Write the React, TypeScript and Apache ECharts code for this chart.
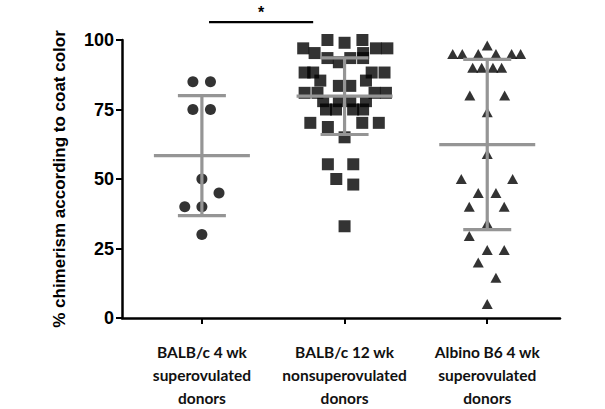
import React, { useEffect, useRef } from "react";
import * as echarts from "echarts";

const categories = [
  "BALB/c 4 wk\nsuperovulated\ndonors",
  "BALB/c 12 wk\nnonsuperovulated\ndonors",
  "Albino B6 4 wk\nsuperovulated\ndonors",
];
const categoryPositions = [1, 2, 3];
const yTicks = [0, 25, 50, 75, 100];

const group1Values = [85, 85, 75, 75, 50, 45, 40, 40, 30];
const group1Jitter = [-0.063, 0.06, -0.063, 0.06, 0, 0.12, -0.12, 0, 0];

const group2Values = [
  100, 100, 99, 97, 97, 97, 95.3, 95.3, 93.5, 93.5, 93.5, 92, 88.3, 88.3, 88.3, 88.3,
  85.4, 85.4, 83.5, 83.5, 81, 81, 81, 81, 78, 78, 78, 78, 75, 75, 75, 75, 70.2, 70.2,
  70.2, 68.7, 65, 55.3, 55.3, 50, 48, 33,
];
const group2Jitter = [
  -0.12, 0.125, 0, -0.29, 0.22, 0.3, -0.21, 0.13, -0.12, 0.04, 0.13, -0.04, -0.28, -0.22,
  0.19, 0.28, -0.17, 0.15, -0.04, 0.04, -0.28, -0.19, 0.21, 0.29, -0.15, -0.04, 0.04, 0.15,
  -0.13, -0.06, 0.06, 0.13, -0.24, 0.124, 0.24, -0.117, 0, -0.117, 0.061, -0.058, 0.061, 0,
];

const group3Values = [
  98, 95, 95, 95, 95, 95, 95, 90, 90, 90, 90, 80, 80, 74, 59, 50, 50, 45, 45, 40, 40, 34,
  29.5, 24.5, 24.5, 20, 14.5, 5,
];
const group3Jitter = [
  0, -0.242, -0.175, -0.063, 0.061, 0.171, 0.234, -0.102, -0.039, 0.04, 0.101, -0.122,
  0.122, 0, 0, -0.182, 0.178, -0.063, 0.061, -0.126, 0.119, 0, -0.126, 0, 0.119, -0.063,
  0.061, 0,
];

const groupMeans = [58.4, 79.8, 62.4];
const groupSDs = [21.6, 13.8, 30.6];

const sigFrom = 1.05;
const sigTo = 1.78;
const sigLevel = 106.4;
const sigLabel = "*";

const App: React.FC = () => {
  const ref = useRef<HTMLDivElement>(null);

  useEffect(() => {
    if (!ref.current) return;
    const chart = echarts.init(ref.current, null, { renderer: "svg" });

    const mk = (vals: number[], jit: number[], pos: number) =>
      vals.map((v, i) => [pos + jit[i], v]);

    const option: any = {
      animation: false,
      backgroundColor: "#ffffff",
      grid: { left: 122, right: 45, top: 40, bottom: 83, containLabel: false },
      xAxis: {
        type: "value",
        min: 0.44,
        max: 3.51,
        splitLine: { show: false },
        axisLine: { show: true, onZero: false, lineStyle: { color: "#000", width: 2.5 } },
        axisTick: {
          show: true,
          customValues: categoryPositions,
          length: 6,
          lineStyle: { color: "#000", width: 2 },
        },
        axisLabel: {
          show: true,
          customValues: categoryPositions,
          formatter: (v: number) => categories[Math.round(v) - 1] ?? "",
          margin: 22,
          color: "#111",
          fontFamily: "Lato",
          fontWeight: "bold",
          fontSize: 15.5,
          lineHeight: 23,
          align: "center",
        },
      },
      yAxis: {
        type: "value",
        min: 0,
        max: 100,
        interval: 25,
        splitLine: { show: false },
        axisLine: { show: true, lineStyle: { color: "#000", width: 2.5 } },
        axisTick: { show: true, length: 6, lineStyle: { color: "#000", width: 2 } },
        axisLabel: {
          margin: 8,
          color: "#000",
          fontFamily: "Liberation Sans",
          fontWeight: "bold",
          fontSize: 18,
          formatter: (v: number) => (yTicks.includes(v) ? String(v) : ""),
        },
        name: "% chimerism according to coat color",
        nameLocation: "middle",
        nameRotate: 90,
        nameGap: 54,
        nameTextStyle: {
          color: "#000",
          fontFamily: "Liberation Sans",
          fontWeight: "bold",
          fontSize: 17,
        },
      },
      series: [
        {
          type: "scatter",
          symbol: "circle",
          symbolSize: 11,
          itemStyle: { color: "#000" },
          data: mk(group1Values, group1Jitter, categoryPositions[0]),
          z: 2,
        },
        {
          type: "scatter",
          symbol: "rect",
          symbolSize: 12,
          itemStyle: { color: "#000" },
          data: mk(group2Values, group2Jitter, categoryPositions[1]),
          z: 2,
        },
        {
          type: "scatter",
          symbol: "triangle",
          symbolSize: [11, 10],
          itemStyle: { color: "#000" },
          data: mk(group3Values, group3Jitter, categoryPositions[2]),
          z: 2,
        },
        {
          type: "custom",
          z: 3,
          clip: false,
          data: categoryPositions.map((p, i) => [p, groupMeans[i], groupSDs[i]]),
          renderItem: (params: any, api: any) => {
            const x = api.value(0);
            const m = api.value(1);
            const s = api.value(2);
            const c = api.coord([x, m]);
            const t = api.coord([x, m + s]);
            const b = api.coord([x, m - s]);
            const style = { stroke: "#959595", lineWidth: 3.2 };
            const meanHalf = 48;
            const capHalf = 24;
            return {
              type: "group",
              children: [
                { type: "line", shape: { x1: c[0], y1: t[1], x2: c[0], y2: b[1] }, style },
                { type: "line", shape: { x1: c[0] - meanHalf, y1: c[1], x2: c[0] + meanHalf, y2: c[1] }, style },
                { type: "line", shape: { x1: c[0] - capHalf, y1: t[1], x2: c[0] + capHalf, y2: t[1] }, style },
                { type: "line", shape: { x1: c[0] - capHalf, y1: b[1], x2: c[0] + capHalf, y2: b[1] }, style },
              ],
            };
          },
        },
        {
          type: "custom",
          z: 3,
          clip: false,
          data: [[sigFrom, sigTo, sigLevel]],
          renderItem: (params: any, api: any) => {
            const a = api.coord([api.value(0), api.value(2)]);
            const b = api.coord([api.value(1), api.value(2)]);
            return {
              type: "group",
              children: [
                {
                  type: "line",
                  shape: { x1: a[0], y1: a[1], x2: b[0], y2: b[1] },
                  style: { stroke: "#000", lineWidth: 2.2 },
                },
                {
                  type: "text",
                  x: (a[0] + b[0]) / 2,
                  y: a[1] - 10,
                  style: {
                    text: sigLabel,
                    fill: "#000",
                    font: "bold 16px 'Liberation Sans'",
                    textAlign: "center",
                    textVerticalAlign: "middle",
                  },
                },
              ],
            };
          },
        },
      ],
    };

    chart.setOption(option);
    return () => chart.dispose();
  }, []);

  return (
    <div
      ref={ref}
      style={{ position: "fixed", left: 0, top: 0, width: 605, height: 409, background: "#fff" }}
    />
  );
};

export default App;
